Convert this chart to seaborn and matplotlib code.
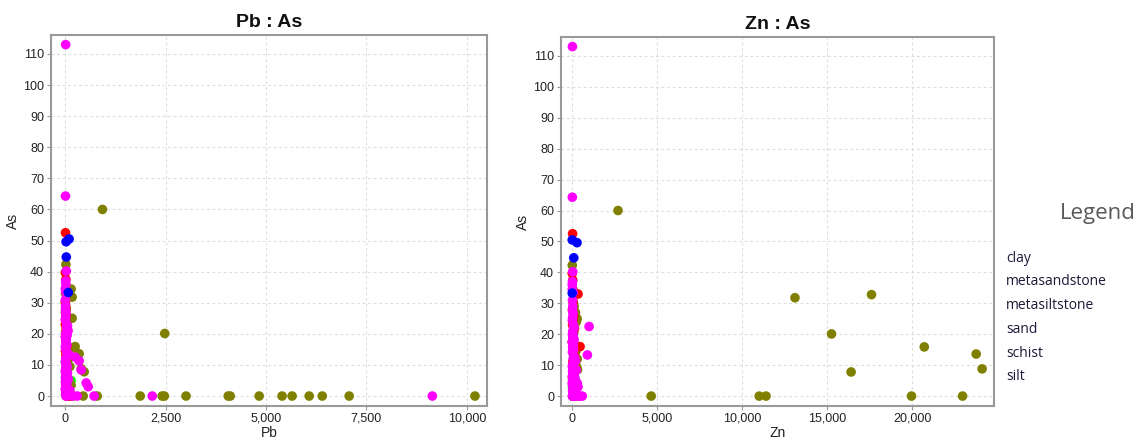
import matplotlib
matplotlib.use("Agg")
import matplotlib.pyplot as plt
from matplotlib.ticker import StrMethodFormatter, MultipleLocator
import seaborn as sns
import pandas as pd

# lithology classes and colours
lithologies = ["clay", "metasandstone", "metasiltstone", "sand", "schist", "silt"]
palette = {"clay": "#FF0000", "metasandstone": "#00FF00", "metasiltstone": "#0000FF",
           "sand": "#00FFFF", "schist": "#808000", "silt": "#FF00FF"}

# sand (hidden under silt points)
sand_pb = [11, 9]
sand_zn = [160, 110]
sand_as = [6.0, 11.0]

# metasandstone
msand_pb = [150, 60, 100]
msand_zn = [30, 20, 60]
msand_as = [5.0, 3.0, 1.5]

# schist
schist_pb = [930, 20, 150, 175, 60, 175, 2480, 250, 350, 400, 475,
             450, 800, 1870, 2415, 2470, 3010, 4060, 4110, 4830, 5400, 5650, 6075, 6400, 7070, 10200,
             60, 120, 30, 200, 90,
             10, 5, 15, 30, 8, 20, 40, 12, 25, 200, 60, 35, 80, 15, 120, 45, 25, 90, 150, 30, 10]
schist_zn = [2700, 10, 60, 13100, 17600, 300, 15250, 20700, 23750, 24100, 16400,
             40, 60, 120, 30, 80, 50, 90, 70, 100, 60, 40, 150, 80, 70, 200,
             4650, 11000, 11400, 19950, 22950,
             50, 80, 120, 40, 200, 250, 150, 100, 60, 180, 230, 90, 300, 150, 270, 320, 110, 200, 60, 180, 90]
schist_as = [60.0, 42.3, 34.4, 31.8, 32.8, 25.0, 20.1, 15.9, 13.6, 8.8, 7.8,
             0, 0, 0, 0, 0, 0, 0, 0, 0, 0, 0, 0, 0, 0, 0,
             0, 0, 0, 0, 0,
             33.0, 30.0, 29.0, 28.0, 27.0, 24.0, 22.0, 20.5, 18.0, 15.5, 14.5, 13.0, 12.0, 10.5,
             9.5, 8.5, 6.5, 5.0, 3.5, 2.0, 0.5]

# clay
clay_pb = [10, 5, 20, 35, 8, 15, 25, 12, 6, 30, 10, 18, 45, 8, 20, 12, 25, 15, 30, 110]
clay_zn = [30, 10, 40, 350, 60, 20, 90, 45, 30, 110, 70, 15, 470, 50, 130, 40, 80, 20, 60, 50]
clay_as = [52.5, 39.7, 37.5, 33.0, 30.5, 28.0, 26.0, 24.5, 23.0, 21.5, 19.0, 17.5, 16.0,
           14.5, 13.0, 11.0, 9.0, 6.0, 4.0, 0.0]

# silt
silt_pb = [15, 10, 30, 15, 20, 10, 25, 5, 40, 75, 12, 8, 30, 18, 45, 6, 22, 35, 100, 250,
           14, 350, 9, 28, 50, 16, 400, 4, 60, 20, 38, 11, 80, 25, 7, 525, 42, 15, 575, 30,
           3, 120, 55, 18, 90, 9140, 2170, 720, 300, 180, 20, 45, 60, 12, 8, 18, 5, 15, 35, 50]
silt_zn = [20, 15, 40, 20, 10, 30, 60, 15, 80, 40, 25, 50, 120, 10, 70, 35, 90, 20, 900, 150,
           60, 200, 110, 40, 15, 75, 250, 30, 130, 55, 20, 160, 45, 85, 25, 300, 10, 140, 350, 65,
           100, 30, 200, 45, 260, 120, 60, 600, 80, 450, 380, 20, 1000, 40, 25, 70, 10, 35, 110, 60]
silt_as = [113.0, 64.3, 40.2, 37.0, 36.0, 27.5, 26.8, 24.5, 23.0, 21.0, 20.0, 19.0, 18.2, 17.5,
           16.5, 15.8, 15.0, 14.2, 13.3, 12.5, 12.0, 11.3, 11.0, 10.2, 9.5, 9.0, 8.4, 8.0, 7.5,
           7.0, 6.5, 6.0, 5.5, 5.0, 4.6, 4.2, 4.0, 3.5, 3.0, 2.8, 2.2, 1.8, 1.5, 1.0, 0.5,
           0, 0, 0, 0, 0, 0, 0, 22.5, 29.0, 31.0, 33.5, 34.5, 25.5, 22.0, 19.5]

# metasiltstone
msilt_pb = [100, 25, 30, 80]
msilt_zn = [10, 290, 100, 10]
msilt_as = [50.5, 49.6, 44.7, 33.3]

# draw order: first rows end up underneath
groups = [("sand", sand_pb, sand_zn, sand_as),
          ("metasandstone", msand_pb, msand_zn, msand_as),
          ("schist", schist_pb, schist_zn, schist_as),
          ("clay", clay_pb, clay_zn, clay_as),
          ("silt", silt_pb, silt_zn, silt_as),
          ("metasiltstone", msilt_pb, msilt_zn, msilt_as)]
frames = []
for name, pb, zn, asv in groups:
    frames.append(pd.DataFrame({"Pb": pb, "Zn": zn, "As": asv, "lithology": name}))
df = pd.concat(frames, ignore_index=True)

sns.set_theme(style="white")
plt.rcParams["font.family"] = ["Liberation Sans", "DejaVu Sans"]

fig = plt.figure(figsize=(11.44, 4.41), dpi=100)
ax1 = fig.add_axes([0.0446, 0.0794, 0.3811, 0.8413])
ax2 = fig.add_axes([0.4904, 0.0794, 0.3785, 0.8367])


def style_axis(ax, xcol, xlim, xstep, title):
    sns.scatterplot(data=df, x=xcol, y="As", hue="lithology", palette=palette,
                    s=48, linewidth=0, alpha=1, legend=False, ax=ax)
    ax.set_xlim(*xlim)
    ax.set_ylim(-3.2, 116.1)
    ax.xaxis.set_major_locator(MultipleLocator(xstep))
    ax.yaxis.set_major_locator(MultipleLocator(10))
    ax.xaxis.set_major_formatter(StrMethodFormatter("{x:,.0f}"))
    ax.grid(True, color="#dddddd", linestyle=(0, (2.5, 2.5)), linewidth=0.8)
    ax.set_axisbelow(True)
    for sp in ax.spines.values():
        sp.set_color("#999999")
        sp.set_linewidth(1.5)
    ax.tick_params(axis="both", which="major", length=3, width=0.8, color="#999999",
                   labelsize=9, labelcolor="#222222", direction="out",
                   bottom=True, left=True, pad=2)
    ax.set_xlabel(xcol, fontsize=10, color="#222222", labelpad=1)
    ax.set_ylabel("As", fontsize=10, color="#222222", labelpad=2)
    ax.set_title(title, fontsize=14, fontweight="bold", color="#111111", pad=6)


style_axis(ax1, "Pb", (-350, 10500), 2500, "Pb : As")
style_axis(ax2, "Zn", (-650, 24800), 5000, "Zn : As")

# text-only legend on the right
fig.text(1098 / 1144, 1 - 213 / 441, "Legend", fontsize=16, color="#595959",
         ha="center", va="center", family=["Open Sans", "DejaVu Sans"])
for i, name in enumerate(lithologies):
    fig.text(1006 / 1144, 1 - (258 + i * 23.8) / 441, name, fontsize=10, color="#1a1a3a",
             ha="left", va="center", family=["Open Sans", "DejaVu Sans"])

fig.savefig("out.png", dpi=100)
